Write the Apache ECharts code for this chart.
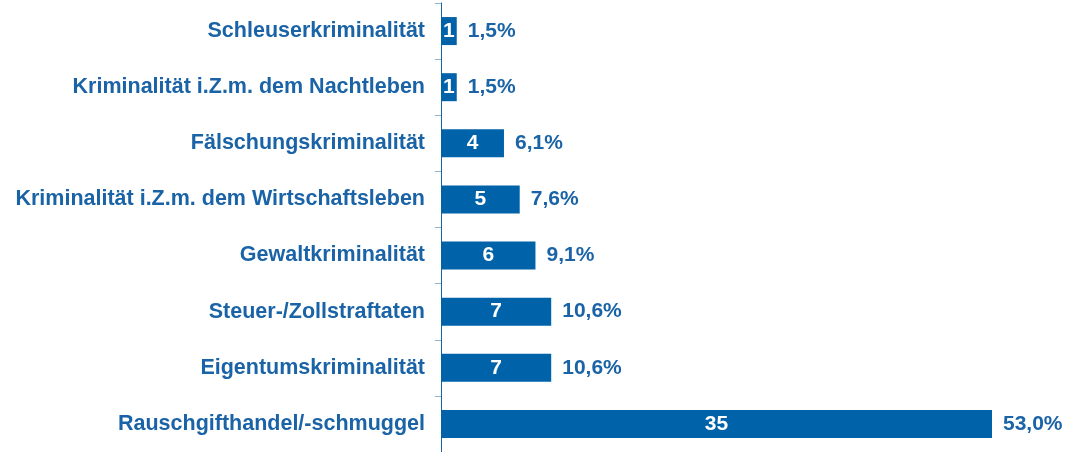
<!DOCTYPE html>
<html><head><meta charset="utf-8">
<script src="https://cdn.jsdelivr.net/npm/echarts@6/dist/echarts.min.js"></script>
<style>html,body{margin:0;padding:0;background:#fff}#c{width:1069px;height:452px}</style>
</head><body><div id="c"></div>
<script>
var categories = ["Schleuserkriminalität","Kriminalität i.Z.m. dem Nachtleben","Fälschungskriminalität","Kriminalität i.Z.m. dem Wirtschaftsleben","Gewaltkriminalität","Steuer-/Zollstraftaten","Eigentumskriminalität","Rauschgifthandel/-schmuggel"];
var counts = [1,1,4,5,6,7,7,35];
var percents = [1.5,1.5,6.1,7.6,9.1,10.6,10.6,53.0];

var barColor = '#0062a8';
var textColor = '#1a63a6';
var font = '"Liberation Sans", Arial, sans-serif';
var chart = echarts.init(document.getElementById('c'));
chart.setOption({
  animation: false,
  grid: {left: 441, top: 3, width: 551, height: 452},
  xAxis: {type: 'value', min: 0, max: 35, show: false},
  yAxis: {
    type: 'category', data: categories, inverse: true,
    axisLine: {show: true, lineStyle: {color: '#1a63a6', width: 1}},
    axisTick: {show: true, length: 6, lineStyle: {color: '#8fb3d6'}},
    axisLabel: {color: textColor, fontFamily: font, fontWeight: 'bold', fontSize: 21.5, margin: 16}
  },
  series: [
    {type: 'bar', data: counts, barWidth: 28, itemStyle: {color: barColor},
     label: {show: true, position: 'inside', color: '#fff', fontFamily: font, fontWeight: 'bold', fontSize: 21}},
    {type: 'bar', data: counts, barWidth: 28, barGap: '-100%', itemStyle: {color: 'rgba(0,0,0,0)'}, silent: true,
     label: {show: true, position: 'right', distance: 11, color: textColor, fontFamily: font, fontWeight: 'bold', fontSize: 21,
       formatter: function(p){ return percents[p.dataIndex].toFixed(1).replace('.', ',') + '%'; }}}
  ]
});
</script></body></html>
